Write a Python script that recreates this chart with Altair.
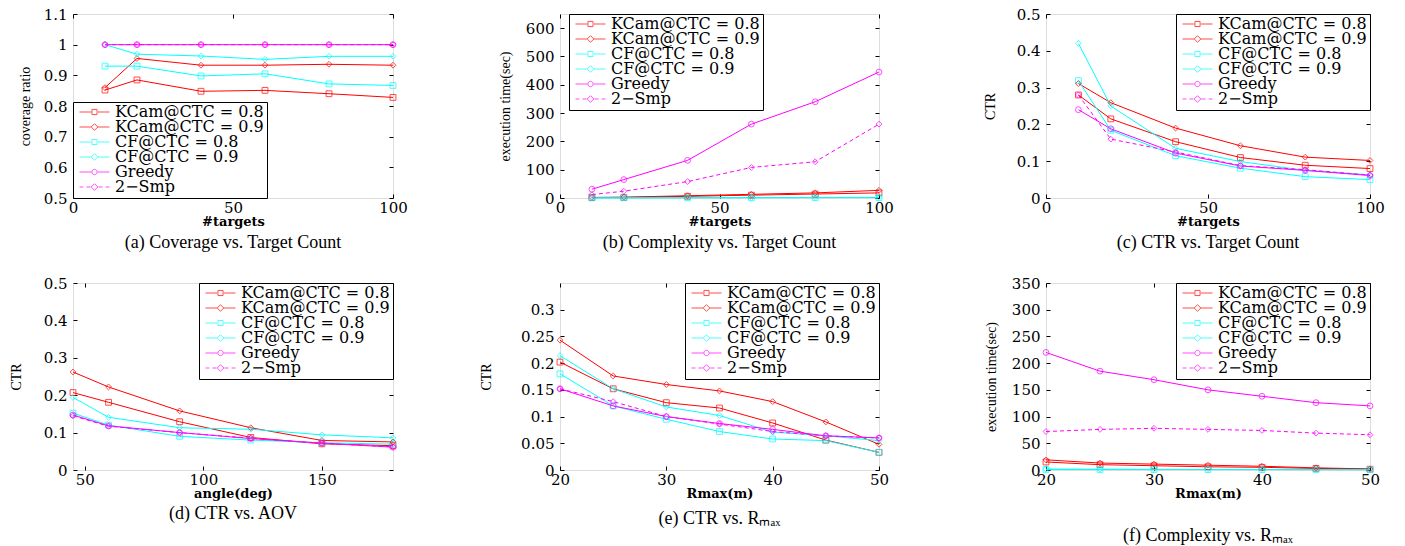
import altair as alt
import pandas as pd

SERIES = ["KCam@CTC = 0.8", "KCam@CTC = 0.9", "CF@CTC = 0.8", "CF@CTC = 0.9", "Greedy", "2\u2212Smp"]
COLORS = ["#ff0000", "#ff0000", "#00ffff", "#00ffff", "#ff00ff", "#ff00ff"]
DASHED_SERIES = ["2\u2212Smp"]
MARKERS = ["square", "diamond", "square", "diamond", "circle", "diamond"]

SQ = "M-0.17,-0.17H0.17V0.17H-0.17Z"
DI = "M0,-0.22L0.22,0L0,0.22L-0.22,0Z"
CI = "M-0.18,0A0.18,0.18,0,1,1,0.18,0A0.18,0.18,0,1,1,-0.18,0Z"
SOLID = "M-1,0H-0.22M0.22,0H1"
DASHED = "M-1,0H-0.74M-0.54,0H-0.26M0.26,0H0.54M0.74,0H1"
LEG_PATHS = [SOLID + SQ, SOLID + DI, SOLID + SQ, SOLID + DI, SOLID + CI, DASHED + DI]

# (a) coverage ratio vs #targets
targets = [10, 20, 40, 60, 80, 100]
a_kcam08 = [0.852, 0.885, 0.848, 0.851, 0.840, 0.828]
a_kcam09 = [0.860, 0.955, 0.933, 0.933, 0.936, 0.933]
a_cf08 = [0.930, 0.930, 0.898, 0.905, 0.872, 0.867]
a_cf09 = [1.000, 0.969, 0.963, 0.952, 0.962, 0.962]
a_greedy = [1.0, 1.0, 1.0, 1.0, 1.0, 1.0]
a_smp = [1.0, 1.0, 1.0, 1.0, 1.0, 1.0]

# (b) execution time vs #targets
b_kcam08 = [1.5, 2, 6, 10, 14, 18]
b_kcam09 = [2, 3, 8, 13, 18, 27]
b_cf08 = [0.3, 0.5, 0.8, 1.0, 1.3, 1.6]
b_cf09 = [0.4, 0.6, 1.0, 1.3, 1.7, 2.0]
b_greedy = [31, 65, 133, 261, 340, 445]
b_smp = [12, 24, 58, 108, 128, 261]

# (c) CTR vs #targets
c_kcam08 = [0.280, 0.215, 0.153, 0.110, 0.089, 0.080]
c_kcam09 = [0.311, 0.259, 0.190, 0.142, 0.111, 0.102]
c_cf08 = [0.319, 0.184, 0.115, 0.081, 0.058, 0.050]
c_cf09 = [0.420, 0.250, 0.135, 0.099, 0.075, 0.063]
c_greedy = [0.240, 0.188, 0.122, 0.087, 0.075, 0.061]
c_smp = [0.280, 0.160, 0.125, 0.088, 0.077, 0.062]

# (d) CTR vs angle
angles = [45, 60, 90, 120, 150, 180]
d_kcam08 = [0.207, 0.181, 0.129, 0.087, 0.070, 0.065]
d_kcam09 = [0.262, 0.222, 0.158, 0.113, 0.079, 0.075]
d_cf08 = [0.152, 0.120, 0.090, 0.080, 0.073, 0.069]
d_cf09 = [0.194, 0.141, 0.113, 0.109, 0.094, 0.086]
d_greedy = [0.147, 0.118, 0.100, 0.084, 0.072, 0.061]
d_smp = [0.145, 0.117, 0.100, 0.085, 0.071, 0.062]

# (e) CTR vs Rmax
rmax = [20, 25, 30, 35, 40, 45, 50]
e_kcam08 = [0.202, 0.152, 0.126, 0.116, 0.088, 0.056, 0.033]
e_kcam09 = [0.243, 0.176, 0.160, 0.148, 0.128, 0.090, 0.048]
e_cf08 = [0.180, 0.120, 0.095, 0.072, 0.058, 0.055, 0.033]
e_cf09 = [0.214, 0.152, 0.118, 0.102, 0.071, 0.064, 0.055]
e_greedy = [0.152, 0.120, 0.100, 0.087, 0.076, 0.064, 0.060]
e_smp = [0.152, 0.128, 0.100, 0.086, 0.072, 0.064, 0.060]

# (f) execution time vs Rmax
f_kcam08 = [15, 10, 8, 6, 5, 3, 1.5]
f_kcam09 = [19, 13, 11, 9, 7, 4, 2]
f_cf08 = [1.2, 1.0, 0.9, 0.8, 0.7, 0.6, 0.5]
f_cf09 = [1.5, 1.3, 1.1, 1.0, 0.9, 0.8, 0.7]
f_greedy = [220, 185, 169, 150, 138, 126, 120]
f_smp = [72, 76, 78, 76, 74, 69, 66]

LABEL_FONT = "DejaVu Serif"
FMT = ".2~f"


def x_main(title, values):
    return alt.Axis(title=title, values=values, format=FMT, ticks=False, domain=False, grid=False,
                    labelFont=LABEL_FONT, labelFontSize=15, labelColor="black", labelPadding=2,
                    labelFlush=False, labelOverlap=False,
                    titleFont="DejaVu Serif", titleFontWeight="bold", titleFontSize=13,
                    titleColor="black", titlePadding=0)


def y_main(title, values, title_x):
    return alt.Axis(title=title, values=values, format=FMT, ticks=False, domain=False, grid=False,
                    labelFont=LABEL_FONT, labelFontSize=15, labelColor="black", labelPadding=6,
                    labelOverlap=False,
                    titleFont="Liberation Serif", titleFontWeight="normal", titleFontSize=14,
                    titleColor="black", titleX=title_x, titleBaseline="middle")


def tick_axis(orient, values):
    return alt.Axis(orient=orient, values=values, labels=False, domain=False, grid=False,
                    ticks=True, tickSize=4, tickColor="black", tickWidth=1, offset=-4, title=None)


def legend_for(orient, lx=None):
    kw = dict(title=None, orient=orient, offset=0, fillColor="white", strokeColor="black",
              padding=3, symbolSize=900, symbolStrokeWidth=1, symbolOffset=3,
              labelFont=LABEL_FONT, labelFontSize=16, labelColor="black", labelOffset=5,
              clipHeight=14, rowPadding=-2, cornerRadius=0)
    if lx is not None:
        kw.update(legendX=lx, legendY=0)
    return alt.Legend(**kw)


def panel(xv, ys, xt, xdom, xticks, yt, ydom, yticks, legend, caption, w, h, cap_off, title_x):
    rows = []
    for s, c, vals in zip(SERIES, COLORS, ys):
        for xx, yy in zip(xv, vals):
            rows.append({"x": xx, "y": yy, "series": s, "clr": c})
    df = pd.DataFrame(rows)
    base = alt.Chart(df)
    xs = alt.Scale(domain=xdom, nice=False, zero=False)
    ysc = alt.Scale(domain=ydom, nice=False, zero=False)
    col = alt.Color("clr:N", scale=None)
    solid = [s for s in SERIES if s not in DASHED_SERIES]
    lines = base.transform_filter(alt.FieldOneOfPredicate(field="series", oneOf=solid)).mark_line(
        strokeWidth=1).encode(
        x=alt.X("x:Q", scale=xs, axis=x_main(xt, xticks)),
        y=alt.Y("y:Q", scale=ysc, axis=y_main(yt, yticks, title_x)),
        color=col, detail="series:N",
    )
    dashed = base.transform_filter(alt.FieldOneOfPredicate(field="series", oneOf=DASHED_SERIES)).mark_line(
        strokeWidth=1, strokeDash=[4, 3]).encode(
        x=alt.X("x:Q", scale=xs, axis=None),
        y=alt.Y("y:Q", scale=ysc, axis=None),
        color=col, detail="series:N",
    )
    layers = [lines, dashed]
    for i, mk in enumerate(["square", "diamond", "circle"]):
        members = [s for s, m in zip(SERIES, MARKERS) if m == mk]
        if i == 0:
            ax, ay = tick_axis("bottom", xticks), tick_axis("left", yticks)
        elif i == 1:
            ax, ay = tick_axis("top", xticks), tick_axis("right", yticks)
        else:
            ax, ay = None, None
        layers.append(
            base.transform_filter(alt.FieldOneOfPredicate(field="series", oneOf=members))
            .mark_point(shape=mk, filled=False, size=34, strokeWidth=1)
            .encode(x=alt.X("x:Q", scale=xs, axis=ax), y=alt.Y("y:Q", scale=ysc, axis=ay), color=col)
        )
    leg = base.transform_filter("false").mark_point(filled=False, strokeWidth=1).encode(
        x=alt.X("x:Q", scale=xs, axis=None),
        y=alt.Y("y:Q", scale=ysc, axis=None),
        color=alt.Color("series:N", scale=alt.Scale(domain=SERIES, range=COLORS), legend=legend),
        shape=alt.Shape("series:N", scale=alt.Scale(domain=SERIES, range=LEG_PATHS), legend=legend),
    )
    layers.append(leg)
    return alt.layer(*layers).resolve_axis(x="independent", y="independent").properties(
        width=w, height=h,
        title=alt.TitleParams(caption, orient="bottom", offset=cap_off,
                              font="Liberation Serif", fontSize=18, fontWeight="normal",
                              color="black", anchor="middle", baseline="top"))


H1 = 184
H2 = 187

pa = panel(targets, [a_kcam08, a_kcam09, a_cf08, a_cf09, a_greedy, a_smp],
           "#targets", [0, 100], [0, 50, 100],
           "coverage ratio", [0.5, 1.1], [0.5, 0.6, 0.7, 0.8, 0.9, 1.0, 1.1],
           legend_for("bottom-left"), "(a) Coverage vs. Target Count", 320, H1, 6, -48)
pb = panel(targets, [b_kcam08, b_kcam09, b_cf08, b_cf09, b_greedy, b_smp],
           "#targets", [0, 100], [0, 50, 100],
           "execution time(sec)", [0, 650], [0, 100, 200, 300, 400, 500, 600],
           legend_for("none", 9), "(b) Complexity vs. Target Count", 319, H1, 6, -55)
pc = panel(targets, [c_kcam08, c_kcam09, c_cf08, c_cf09, c_greedy, c_smp],
           "#targets", [0, 100], [0, 50, 100],
           "CTR", [0, 0.5], [0, 0.1, 0.2, 0.3, 0.4, 0.5],
           legend_for("top-right"), "(c) CTR vs. Target Count", 324, H1, 6, -56)
pd_ = panel(angles, [d_kcam08, d_kcam09, d_cf08, d_cf09, d_greedy, d_smp],
            "angle(deg)", [45, 180], [50, 100, 150],
            "CTR", [0, 0.5], [0, 0.1, 0.2, 0.3, 0.4, 0.5],
            legend_for("top-right"), "(d) CTR vs. AOV", 320, H2, 5, -57)
pe = panel(rmax, [e_kcam08, e_kcam09, e_cf08, e_cf09, e_greedy, e_smp],
           "Rmax(m)", [20, 50], [20, 30, 40, 50],
           "CTR", [0, 0.35], [0, 0.05, 0.1, 0.15, 0.2, 0.25, 0.3],
           legend_for("top-right"), "(e) CTR vs. R\u2098\u2090\u2093", 319, H2, 10, -74)
pf = panel(rmax, [f_kcam08, f_kcam09, f_cf08, f_cf09, f_greedy, f_smp],
           "Rmax(m)", [20, 50], [20, 30, 40, 50],
           "execution time(sec)", [0, 350], [0, 50, 100, 150, 200, 250, 300, 350],
           legend_for("top-right"), "(f) Complexity vs. R\u2098\u2090\u2093", 324, H2, 27, -55)

chart = alt.concat(pa, pb, pc, pd_, pe, pf, columns=3, bounds="flush",
                   spacing={"row": 85, "column": 167}).resolve_scale(
    color="independent", shape="independent"
).resolve_legend(color="independent", shape="independent").properties(
    padding={"left": 0, "top": -2, "right": 0, "bottom": 0}
).configure_view(stroke="black", strokeWidth=1.5).configure(background="white")

chart.save("out.html", embed_options={"renderer": "svg", "actions": False})
